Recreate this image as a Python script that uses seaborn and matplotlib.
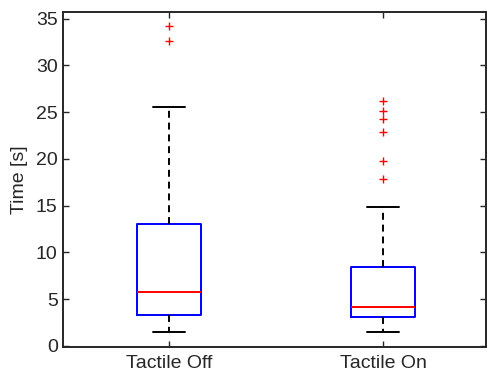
import matplotlib
matplotlib.use("Agg")
import matplotlib.pyplot as plt
import seaborn as sns
import pandas as pd

# Sample values chosen to reproduce the box statistics
tactile_off = [1.43, 2.1, 2.8, 3.29, 4.1, 4.9, 5.75, 7.6, 10.2, 13.06,
               25.55, 32.66, 34.23]
tactile_on = [1.47, 1.8, 2.1, 2.3, 2.5, 2.7, 2.9, 3.04, 3.2, 3.4, 3.6, 3.8,
              3.95, 4.1, 4.18, 4.6, 5.1, 5.8, 6.5, 7.2, 7.9, 8.46, 14.88,
              17.82, 19.74, 22.88, 24.3, 25.13, 26.2]
categories = ["Tactile Off", "Tactile On"]
y_ticks = [0, 5, 10, 15, 20, 25, 30, 35]

df = pd.DataFrame({
    "cond": [categories[0]] * len(tactile_off) + [categories[1]] * len(tactile_on),
    "time": tactile_off + tactile_on,
})

sns.set_theme(style="ticks")
plt.rcParams["font.family"] = ["Liberation Sans", "DejaVu Sans"]
plt.rcParams["lines.scale_dashes"] = False

fig = plt.figure(figsize=(4.87, 3.78), dpi=100)
ax = fig.add_axes([63.3 / 487, 1 - 346.7 / 378, (486 - 63.3) / 487, (346.7 - 11.7) / 378])

axis_col = "#262626"
lw = 1.4
sns.boxplot(
    data=df, x="cond", y="time", order=categories, ax=ax,
    width=0.3, whis=1.5, fill=False, linewidth=lw,
    boxprops=dict(color="#0000FF", linewidth=lw),
    medianprops=dict(color="#FF0000", linewidth=lw),
    whiskerprops=dict(color="black", linewidth=lw, linestyle=(0, (5, 3.5))),
    capprops=dict(color="black", linewidth=lw),
    flierprops=dict(marker="+", color="#FF0000", markeredgecolor="#FF0000",
                    markerfacecolor="#FF0000", markersize=5.5, markeredgewidth=1.0,
                    linestyle="none"),
)

ax.set_xlim(-0.496, 1.482)
ax.set_ylim(-0.107, 35.76)
ax.set_yticks(y_ticks)
ax.set_xlabel("")
ax.set_ylabel("Time [s]", fontsize=14, color=axis_col, labelpad=6)

for s in ax.spines.values():
    s.set_visible(True)
    s.set_color(axis_col)
    s.set_linewidth(1.4)
ax.tick_params(direction="in", length=4, width=1.0, colors=axis_col,
               labelsize=14, top=True, right=True, pad=4)
ax.tick_params(axis="x", pad=6)

fig.savefig("out.png", dpi=100)
